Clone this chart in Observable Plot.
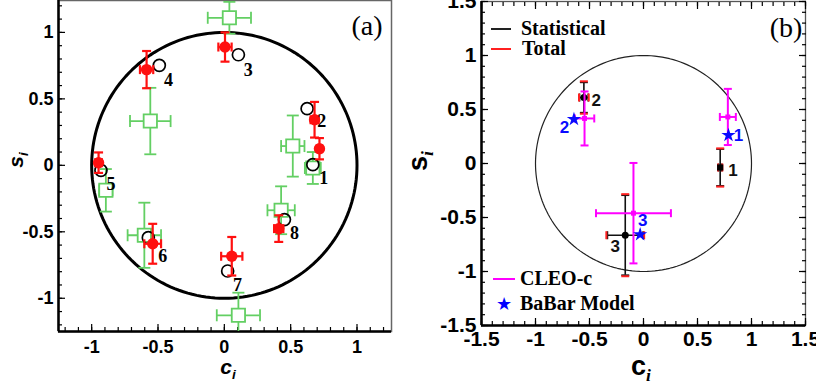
<!DOCTYPE html>
<html><head><meta charset="utf-8">
<script src="https://cdn.jsdelivr.net/npm/d3@7"></script>
<script src="https://cdn.jsdelivr.net/npm/@observablehq/plot@0.6"></script>
<style>
body{margin:0;background:#fff;}
#wrap{position:relative;width:816px;height:385px;overflow:hidden;background:#fff;}
.panel{position:absolute;top:0;}
.ov{position:absolute;white-space:nowrap;line-height:1;}
.serif{font-family:'Liberation Serif','Times New Roman',serif;}
.sans{font-family:'Liberation Sans',Arial,sans-serif;}
</style></head><body>
<div id="wrap">
  <div id="pa" class="panel" style="left:0;width:410px;height:385px;"></div>
  <div id="pb" class="panel" style="left:410px;width:406px;height:385px;"></div>

  <div class="ov serif" style="left:367px;top:26px;transform:translate(-50%,-50%);font-size:28px;">(a)</div>
  <div class="ov serif" style="left:786px;top:28px;transform:translate(-50%,-50%);font-size:28px;">(b)</div>

  <div class="ov sans" style="left:228px;top:369px;transform:translate(-50%,-50%);font-size:21px;font-weight:bold;font-style:italic;">c<sub style="font-size:0.65em;">i</sub></div>
  <div class="ov sans" style="left:18px;top:160px;transform:translate(-50%,-50%) rotate(-90deg);font-size:21px;font-weight:bold;font-style:italic;">s<sub style="font-size:0.65em;">i</sub></div>

  <div class="ov sans" style="left:641px;top:369px;transform:translate(-50%,-50%);font-size:27px;font-weight:bold;">c<sub class="serif" style="font-size:0.65em;font-style:italic;">i</sub></div>
  <div class="ov sans" style="left:421px;top:161px;transform:translate(-50%,-50%) rotate(-90deg);font-size:27px;font-weight:bold;">s<sub class="serif" style="font-size:0.65em;font-style:italic;">i</sub></div>

  <div class="ov" style="left:491px;top:28px;width:20px;height:2px;background:#222;"></div>
  <div class="ov serif" style="left:521px;top:18px;font-size:20px;font-weight:bold;">Statistical</div>
  <div class="ov" style="left:491px;top:48px;width:20px;height:2px;background:#ff2020;"></div>
  <div class="ov serif" style="left:522px;top:38px;font-size:20px;font-weight:bold;">Total</div>
  <div class="ov" style="left:493px;top:278px;width:22px;height:2px;background:#ff00ff;"></div>
  <div class="ov serif" style="left:520px;top:268px;font-size:20px;font-weight:bold;">CLEO-c</div>
  <div class="ov" style="left:504px;top:304px;transform:translate(-50%,-50%);font-size:18px;color:#0000ff;font-family:'DejaVu Sans';">★</div>
  <div class="ov serif" style="left:520px;top:293px;font-size:20px;font-weight:bold;">BaBar Model</div>
</div>
<script>
// ---------- Panel (a) data ----------
const aLabels   = ["1","2","3","4","5","6","7","8"];
const aMeasC    = [0.717, 0.68, 0.005, -0.586, -0.948, -0.54, 0.056, 0.41];
const aMeasS    = [0.125, 0.343, 0.89, 0.72, 0.02, -0.59, -0.684, -0.476];
const aMeasErrC = [0.02, 0.03, 0.05, 0.05, 0.025, 0.063, 0.08, 0.035];
const aMeasErrS = [0.08, 0.134, 0.11, 0.14, 0.077, 0.15, 0.145, 0.10];
const aModelC   = [0.667, 0.624, 0.106, -0.49, -0.93, -0.573, 0.025, 0.453];
const aModelS   = [0.005, 0.426, 0.832, 0.752, -0.038, -0.544, -0.795, -0.408];
const aLabelC   = [0.75, 0.735, 0.181, -0.42, -0.855, -0.465, 0.10, 0.528];
const aLabelS   = [-0.10, 0.333, 0.714, 0.64, -0.143, -0.684, -0.90, -0.514];
const aCleoC    = [0.038, -0.558, 0.516, 0.667, -0.893, -0.603, 0.428, 0.106];
const aCleoS    = [1.11, 0.333, 0.145, -0.02, -0.188, -0.526, -0.338, -1.128];
const aCleoErrC = [0.163, 0.153, 0.088, 0.06, 0.05, 0.126, 0.103, 0.163];
const aCleoErrS = [0.12, 0.25, 0.23, 0.12, 0.16, 0.245, 0.18, 0.17];
const aXDomain  = [-1.25, 1.26];
const aYDomain  = [-1.25, 1.24];
const aMajor    = [-1, -0.5, 0, 0.5, 1];

// ---------- Panel (b) data ----------
const bLabels      = ["1","2","3"];
const bMeasC       = [0.71, -0.552, -0.169];
const bMeasS       = [-0.037, 0.611, -0.664];
const bStatErrC    = [0.015, 0.04, 0.165];
const bStatErrS    = [0.17, 0.14, 0.37];
const bTotErrC     = [0.02, 0.045, 0.175];
const bTotErrS     = [0.177, 0.15, 0.38];
const bMeasLabelC  = [0.828, -0.438, -0.262];
const bMeasLabelS  = [-0.068, 0.586, -0.772];
const bCleoC       = [0.781, -0.546, -0.093];
const bCleoS       = [0.431, 0.417, -0.46];
const bCleoErrC    = [0.074, 0.09, 0.347];
const bCleoErrS    = [0.26, 0.25, 0.465];
const bBabarC      = [0.787, -0.644, -0.031];
const bBabarS      = [0.262, 0.41, -0.657];
const bBabarLabelC = [0.88, -0.731, -0.006];
const bBabarLabelS = [0.262, 0.333, -0.525];
const bDomain      = [-1.5, 1.5];
const bMajor       = [-1.5, -1, -0.5, 0, 0.5, 1, 1.5];

// ---------- helpers ----------
const rows = (c, s, ec, es, lab) => c.map((v, i) => ({c: v, s: s[i], ec: ec ? ec[i] : 0, es: es ? es[i] : 0, label: lab ? lab[i] : ""}));
const hcap = {draw(ctx, size) { const r = Math.sqrt(size / Math.PI); ctx.moveTo(-r, 0); ctx.lineTo(r, 0); }};
const vcap = {draw(ctx, size) { const r = Math.sqrt(size / Math.PI); ctx.moveTo(0, -r); ctx.lineTo(0, r); }};
const fmt = d => String(d);
const circle = d3.range(0, 361, 2).map(a => ({c: Math.cos(a * Math.PI / 180), s: Math.sin(a * Math.PI / 180)}));

function bars(data, color, width, capR) {
  const o = {stroke: color, strokeWidth: width, clip: true};
  return [
    Plot.ruleX(data, {x: "c", y1: d => d.s - d.es, y2: d => d.s + d.es, ...o}),
    Plot.ruleY(data, {y: "s", x1: d => d.c - d.ec, x2: d => d.c + d.ec, ...o}),
    ...caps(data, color, width, capR, d => d.es, d => d.ec)
  ];
}
function caps(data, color, width, capR, fy, fx) {
  const o = {stroke: color, strokeWidth: width, fill: "none", r: capR, clip: true};
  return [
    Plot.dot(data, {x: "c", y: d => d.s + fy(d), symbol: hcap, ...o}),
    Plot.dot(data, {x: "c", y: d => d.s - fy(d), symbol: hcap, ...o}),
    Plot.dot(data, {x: d => d.c + fx(d), y: "s", symbol: vcap, ...o}),
    Plot.dot(data, {x: d => d.c - fx(d), y: "s", symbol: vcap, ...o})
  ];
}
function tickAxes(major, minor, sides) {
  const m = [];
  for (const side of sides) {
    const A = (side === "top" || side === "bottom") ? Plot.axisX : Plot.axisY;
    m.push(A({anchor: side, ticks: major, tickSize: -7, tickFormat: () => "", label: null, strokeWidth: 1.2}));
    m.push(A({anchor: side, ticks: minor, tickSize: -4, tickFormat: () => "", label: null, strokeWidth: 1.2}));
  }
  return m;
}

// ---------- Panel (a) ----------
const aMeas  = rows(aMeasC, aMeasS, aMeasErrC, aMeasErrS, aLabels);
const aModel = rows(aModelC, aModelS);
const aLab   = rows(aLabelC, aLabelS, null, null, aLabels);
const aCleo  = rows(aCleoC, aCleoS, aCleoErrC, aCleoErrS);
const aMinor = d3.range(-12, 13).map(k => k / 10);
const green = "#63cf63";

const plotA = Plot.plot({
  width: 410, height: 385,
  marginLeft: 58, marginRight: 19, marginTop: 0, marginBottom: 54,
  x: {domain: aXDomain, label: null},
  y: {domain: aYDomain, label: null},
  style: {fontFamily: "'Liberation Sans', Arial, sans-serif", fontSize: "18px", fontWeight: "bold", background: "transparent"},
  marks: [
    Plot.frame({stroke: "#666", strokeWidth: 1.5}),
    Plot.ruleX([aXDomain[0]], {strokeWidth: 2.5}),
    Plot.ruleY([aYDomain[0]], {strokeWidth: 2.5}),
    ...tickAxes(aMajor, aMinor, ["bottom", "left"]),
    Plot.axisX({ticks: aMajor, tickSize: 0, tickPadding: 9, tickFormat: fmt, label: null}),
    Plot.axisY({ticks: aMajor, tickSize: 0, tickPadding: 5, tickFormat: fmt, label: null}),
    Plot.line(circle, {x: "c", y: "s", stroke: "black", strokeWidth: 3}),
    ...bars(aCleo, green, 1.8, 6),
    Plot.dot(aCleo, {x: "c", y: "s", symbol: "square", r: 7.5, fill: "white", stroke: green, strokeWidth: 1.8, clip: true}),
    Plot.dot(aModel, {x: "c", y: "s", r: 6, fill: "none", stroke: "black", strokeWidth: 1.7}),
    ...bars(aMeas, "#ff1010", 2.2, 4.5),
    Plot.dot(aMeas, {x: "c", y: "s", r: 5.7, fill: "#ff1010"}),
    Plot.text(aLab, {x: "c", y: "s", text: "label", fontFamily: "'Liberation Serif', 'Times New Roman', serif", fontSize: 18, fontWeight: "bold", fill: "black"})
  ]
});
document.getElementById("pa").appendChild(plotA);

// ---------- Panel (b) ----------
const bMeas   = rows(bMeasC, bMeasS, bStatErrC, bStatErrS, bLabels);
const bTot    = rows(bMeasC, bMeasS, bTotErrC, bTotErrS);
const bMLab   = rows(bMeasLabelC, bMeasLabelS, null, null, bLabels);
const bCleo   = rows(bCleoC, bCleoS, bCleoErrC, bCleoErrS);
const bBabar  = rows(bBabarC, bBabarS);
const bBLab   = rows(bBabarLabelC, bBabarLabelS, null, null, bLabels);
const bMinor  = d3.range(-15, 16).map(k => k / 10);
const magenta = "#ff00ff";
const blue = "#0a0aff";

const plotB = Plot.plot({
  width: 406, height: 385,
  marginLeft: 71, marginRight: 11, marginTop: 1, marginBottom: 60,
  x: {domain: bDomain, label: null},
  y: {domain: bDomain, label: null},
  style: {fontFamily: "'Liberation Sans', Arial, sans-serif", fontSize: "21px", fontWeight: "bold", background: "transparent"},
  marks: [
    Plot.frame({stroke: "#555", strokeWidth: 1.3}),
    Plot.ruleX([bDomain[0]], {strokeWidth: 2.5}),
    Plot.ruleY([bDomain[0]], {strokeWidth: 2.5}),
    ...tickAxes(bMajor, bMinor, ["bottom", "left", "top", "right"]),
    Plot.axisX({ticks: bMajor, tickSize: 0, tickPadding: 6, tickFormat: fmt, label: null}),
    Plot.axisY({ticks: bMajor, tickSize: 0, tickPadding: 5, tickFormat: fmt, label: null}),
    Plot.line(circle, {x: "c", y: "s", stroke: "#222", strokeWidth: 1.2}),
    ...bars(bMeas, "#111", 1.6, 4),
    ...caps(bTot, "#ff2020", 2, 4, d => d.es, d => d.ec),
    Plot.dot(bMeas, {x: "c", y: "s", r: 3.5, fill: "black", symbol: (d, i) => i === 0 ? "square" : "circle"}),
    ...bars(bCleo, magenta, 2, 4),
    Plot.dot(bCleo, {x: "c", y: "s", symbol: "square", r: 2.8, fill: magenta}),
    Plot.dot(bBabar, {x: "c", y: "s", symbol: "star", r: 4.5, fill: blue}),
    Plot.text(bMLab, {x: "c", y: "s", text: "label", fontSize: 17, fontWeight: "bold", fill: "#111"}),
    Plot.text(bBLab, {x: "c", y: "s", text: "label", fontSize: 17, fontWeight: "bold", fill: blue})
  ]
});
document.getElementById("pb").appendChild(plotB);
</script>
</body></html>
